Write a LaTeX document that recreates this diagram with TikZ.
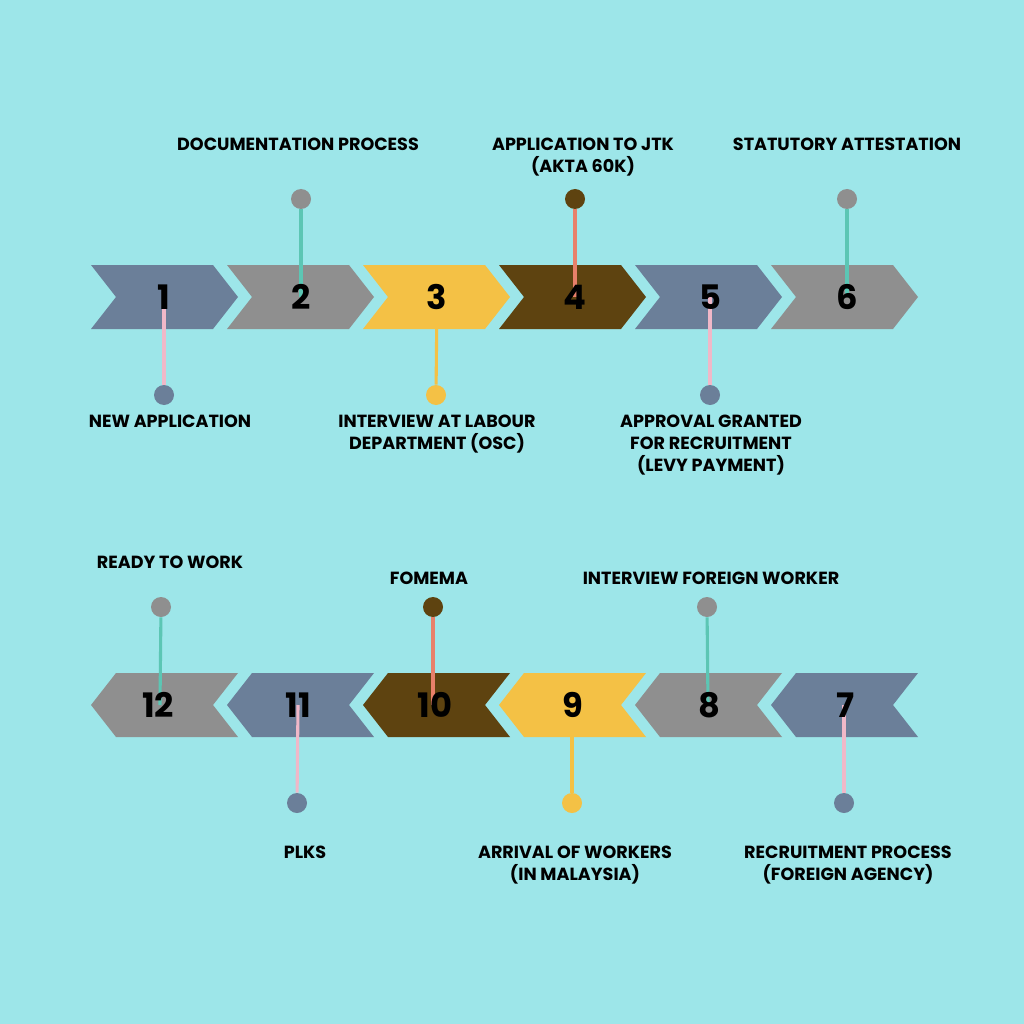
\documentclass[tikz,border=0pt]{standalone}
\usepackage{fontspec}
\setmainfont{Poppins}[UprightFont=* Bold]
\definecolor{bgc}{HTML}{9DE6E9}
\definecolor{slate}{HTML}{6B7F99}
\definecolor{grey}{HTML}{8F8F8F}
\definecolor{gold}{HTML}{F4C145}
\definecolor{brown}{HTML}{5E4310}
\definecolor{pinkl}{HTML}{F0B8C8}
\definecolor{teal}{HTML}{5CC6B4}
\definecolor{salmon}{HTML}{E8806A}
\tikzset{
  num/.style={font=\fontsize{24}{24}\selectfont, text=black, inner sep=0pt},
  dot/.style={circle, minimum size=20*0.025cm, inner sep=0pt, fill=#1},
  lbl/.style={font=\fontsize{12.5}{15.5}\selectfont, align=center, text=black, inner sep=0pt},
  stem/.style={line width=2.2pt, draw=#1}
}
\begin{document}
\begin{tikzpicture}[x=0.025cm,y=-0.025cm]
  \fill[bgc] (0,0) rectangle (1024,1024);
  \useasboundingbox (0,0) rectangle (1024,1024);
  % top row, pointing right
  \foreach \i/\c/\x in {1/slate/91, 2/grey/227, 3/gold/363, 4/brown/499, 5/slate/635, 6/grey/771}
    \fill[\c] (\x,265) -- ++(122,0) -- ++(25,32) -- ++(-25,32) -- ++(-122,0) -- ++(25,-32) -- cycle;
  % bottom row, pointing left
  \foreach \i/\c/\x in {12/grey/91, 11/slate/227, 10/brown/363, 9/gold/499, 8/grey/635, 7/slate/771}
    \fill[\c] (\x,705) -- ++(25,-32) -- ++(122,0) -- ++(-25,32) -- ++(25,32) -- ++(-122,0) -- cycle;
  % centres
  \coordinate (c1) at (164,297);  \coordinate (c2) at (301,297);
  \coordinate (c3) at (437,297);  \coordinate (c4) at (575,297);
  \coordinate (c5) at (710,297);  \coordinate (c6) at (847,297);
  \coordinate (c12) at (160,705); \coordinate (c11) at (298,705);
  \coordinate (c10) at (433,705); \coordinate (c9) at (572,705);
  \coordinate (c8) at (708,705);  \coordinate (c7) at (844,705);
  % dots
  \node[dot=slate] (d1) at (164,395) {};
  \node[dot=grey] (d2) at (301,199) {};
  \node[dot=gold] (d3) at (436,395) {};
  \node[dot=brown] (d4) at (575,199) {};
  \node[dot=slate] (d5) at (710,395) {};
  \node[dot=grey] (d6) at (847,199) {};
  \node[dot=grey] (d12) at (161,607) {};
  \node[dot=slate] (d11) at (297,803) {};
  \node[dot=brown] (d10) at (433,607) {};
  \node[dot=gold] (d9) at (572,803) {};
  \node[dot=grey] (d8) at (707,607) {};
  \node[dot=slate] (d7) at (844,803) {};
  % stems
  \draw[stem=pinkl] (d1) -- (c1);
  \draw[stem=teal] (d2) -- (c2);
  \draw[stem=gold] (d3) -- (c3);
  \draw[stem=salmon] (d4) -- (c4);
  \draw[stem=pinkl] (d5) -- (c5);
  \draw[stem=teal] (d6) -- (c6);
  \draw[stem=teal] (d12) -- (c12);
  \draw[stem=pinkl] (d11) -- (c11);
  \draw[stem=salmon] (d10) -- (c10);
  \draw[stem=gold] (d9) -- (c9);
  \draw[stem=teal] (d8) -- (c8);
  \draw[stem=pinkl] (d7) -- (c7);
  % numbers
  \foreach \n/\x/\y in {1/164/297, 2/301/297, 3/437/297, 4/575/297, 5/710/297, 6/847/297,
                        12/158/705, 11/298/705, 10/435/705, 9/573/705, 8/709/705, 7/846/705}
    \node[num] (n\n) at (\x,\y) {\n};
  % labels
  \node[lbl, anchor=north] (l1) at (170,415) {NEW APPLICATION};
  \node[lbl, anchor=north] (l2) at (298,138) {DOCUMENTATION PROCESS};
  \node[lbl, anchor=north] (l3) at (437,415) {INTERVIEW AT LABOUR\\DEPARTMENT (OSC)};
  \node[lbl, anchor=north] (l4) at (583,138) {APPLICATION TO JTK\\(AKTA 60K)};
  \node[lbl, anchor=north] (l5) at (711,415) {APPROVAL GRANTED\\FOR RECRUITMENT\\(LEVY PAYMENT)};
  \node[lbl, anchor=north] (l6) at (847,138) {STATUTORY ATTESTATION};
  \node[lbl, anchor=north] (l12) at (170,556) {READY TO WORK};
  \node[lbl, anchor=north] (l11) at (305,846) {PLKS};
  \node[lbl, anchor=north] (l10) at (429,572) {FOMEMA};
  \node[lbl, anchor=north] (l9) at (575,846) {ARRIVAL OF WORKERS\\(IN MALAYSIA)};
  \node[lbl, anchor=north] (l8) at (711,572) {INTERVIEW FOREIGN WORKER};
  \node[lbl, anchor=north] (l7) at (848,846) {RECRUITMENT PROCESS\\(FOREIGN AGENCY)};
\end{tikzpicture}
\end{document}
